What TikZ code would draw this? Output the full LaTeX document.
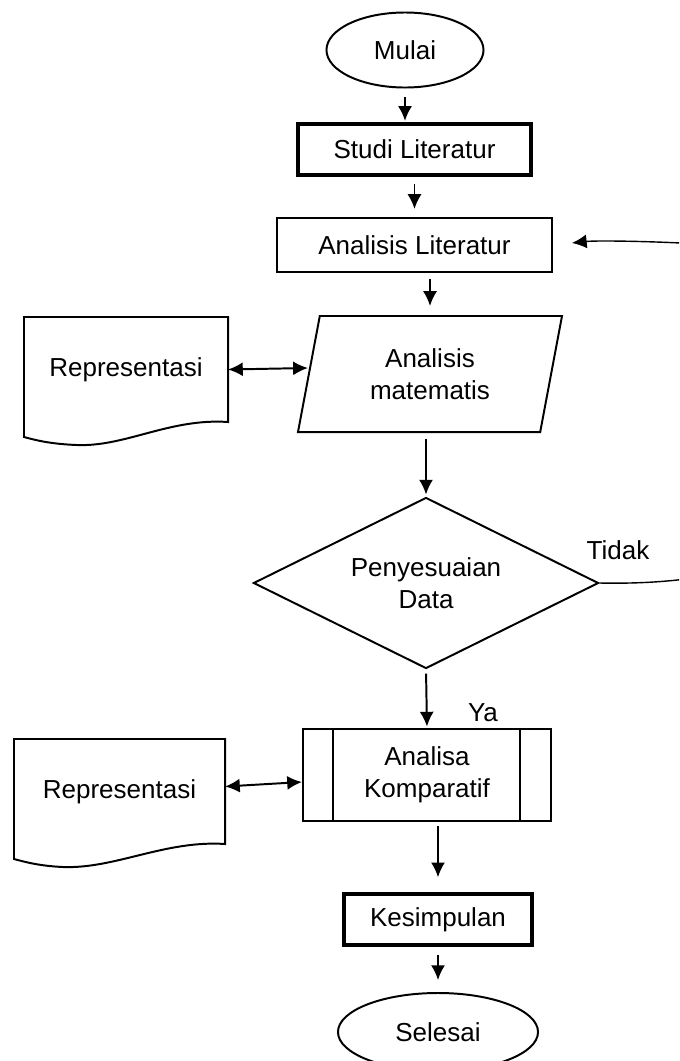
\documentclass[tikz,border=0pt]{standalone}
\usepackage{fontspec}
\setmainfont{Liberation Sans}
\usepackage{tikz}
\usetikzlibrary{calc}
\usetikzlibrary{arrows.meta}
\usetikzlibrary{shapes.geometric}
\tikzset{>={Latex[length=10.5pt,width=10pt]}}

\begin{document}
\begin{tikzpicture}[x=0.025cm,y=-0.025cm,font=\fontsize{18.5}{23}\selectfont,line width=1.4pt,
	box/.style={draw,inner sep=0pt},
	boldbox/.style={draw,line width=2.4pt,inner sep=0pt},
	terminal/.style={draw,ellipse,inner sep=0pt},
	doc/.style={inner sep=0pt,minimum width=5.05cm,minimum height=2.575cm}]
	\useasboundingbox (0,0) rectangle (679,1061);
	\clip (0,0) rectangle (679,1061);
	\node[terminal,minimum width=3.925cm,minimum height=1.875cm] (mulai) at (405,50) {Mulai};
	\node[boldbox,minimum width=5.825cm,minimum height=1.275cm] (studi) at (414.5,149.5) {Studi Literatur};
	\node[box,minimum width=6.875cm,minimum height=1.35cm] (lit) at (414.5,245) {Analisis Literatur};
	\node[draw,trapezium,trapezium left angle=77,trapezium right angle=103,trapezium stretches=true,
		inner sep=0pt,minimum width=6.6cm,minimum height=2.9cm,align=center] (mat) at (430,374) {Analisis\\matematis};
	\node[doc,anchor=north west] (rep1) at (24,317) {Representasi};
	\node[draw,diamond,aspect=2,inner sep=0pt,minimum width=8.625cm,minimum height=4.275cm,align=center] (dec) at (426,583) {Penyesuaian\\Data};
	\node (tidak) at (618,550) {Tidak};
	\node (ya) at (483,713) {Ya};
	\node[box,minimum width=6.2cm,minimum height=2.3cm,align=center] (ak) at (427,775) {Analisa\\Komparatif};
	\node[doc,anchor=north west,minimum width=5.225cm] (rep2) at (14,739) {Representasi};
	\node[boldbox,minimum width=4.7cm,minimum height=1.275cm] (kes) at (438,919.5) {Kesimpulan};
	\node[terminal,minimum width=5cm,minimum height=1.95cm] (sel) at (438,1032) {Selesai};

	% document shapes
	\draw (rep1.south east) .. controls (170,418) and (125,447) .. (77,445) .. controls (50,444) and (35,440) .. (24,437)
		-- (rep1.north west) -- (rep1.north east) -- cycle;
	\draw (rep2.south east) .. controls (165,840) and (115,869) .. (63,867) .. controls (40,866) and (25,862) .. (14,859)
		-- (rep2.north west) -- (rep2.north east) -- cycle;
	% side bars
	\draw ($(ak.north west)+(31,0)$) -- ($(ak.south west)+(31,0)$);
	\draw ($(ak.north east)+(-32,0)$) -- ($(ak.south east)+(-32,0)$);

	\draw[->,shorten <=6pt,shorten >=1pt] (mulai.south) -- (mulai.south |- studi.north);
	\draw[->,shorten <=5pt,shorten >=5.7pt] (studi) -- (lit);
	\draw[->,shorten <=4.3pt,shorten >=6.4pt] (lit.south -| mat) -- (mat.north);
	\draw[->,shorten <=4.3pt,shorten >=1.4pt] (mat.south -| dec) -- (dec.north);
	\draw[->,shorten <=3pt,shorten >=1pt] (dec.south) -- (ak.north);
	\draw[->,shorten <=3pt,shorten >=10.7pt] (ak.south -| kes) -- (kes.north);
	\draw[->,shorten <=5.7pt,shorten >=8.5pt] (kes) -- (sel);
	\draw[<->] (rep1.east) -- ($(mat.west)+(0,-6)$);
	\draw[<->] ($(rep2.east)+(0,-5)$) -- ($(ak.west)+(0,7)$);
	\draw[->,line width=1pt,shorten >=0.475cm] (dec.east) .. controls (650,584) and (680,580) .. (710,576)
		-- (710,245) .. controls (680,242) and (600,240) .. (lit.east);
\end{tikzpicture}
\end{document}
